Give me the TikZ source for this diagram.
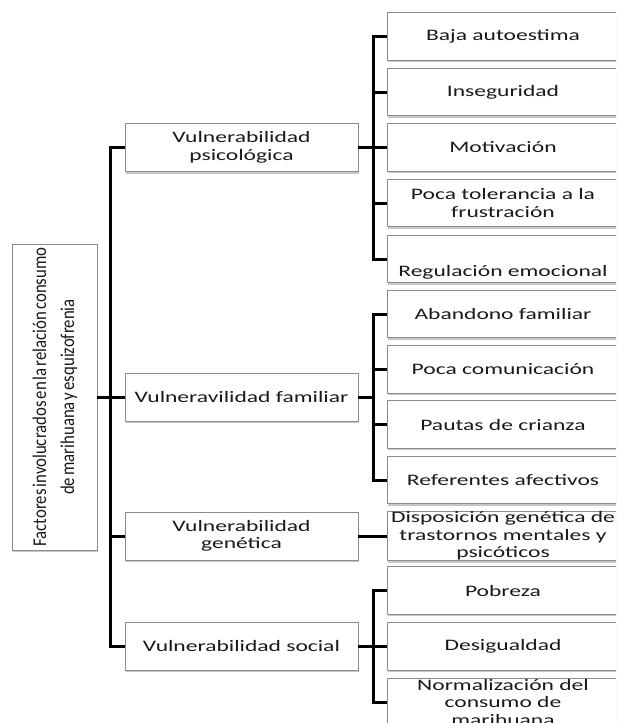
\documentclass[tikz,border=0pt]{standalone}
\usepackage{fontspec}
\setmainfont{Carlito}[FakeStretch=1.47]
\newfontfamily\rootfont{Carlito}[FakeStretch=0.86]
\usetikzlibrary{shadows}
\definecolor{boxline}{HTML}{8C8C8C}
\definecolor{txt}{HTML}{1A1A1A}
\begin{document}
\begin{tikzpicture}[x=1pt,y=-1pt,
  box/.style={draw=boxline, line width=0.8pt, fill=white,
    drop shadow={shadow xshift=1pt, shadow yshift=-2.2pt, opacity=0.4, fill=black!55},
    inner sep=0pt, align=center, text=txt,
    font=\fontsize{16}{17.5}\selectfont},
  mid/.style={box, minimum width=233pt, minimum height=48pt},
  leaf/.style={box, minimum width=232pt, minimum height=47.5pt},
  link/.style={line width=3pt, draw=black}]
\useasboundingbox (0,0) rectangle (616,723);
\clip (0,0) rectangle (616,723);

% root
\node[box, minimum width=85pt, minimum height=306pt] (root) at (54.5,397)
  {\rootfont\fontsize{19.5}{28}\selectfont\spaceskip=2pt\relax
   \rotatebox{90}{\begin{tabular}{@{}c@{}}Factores involucrados en la relación consumo\\de marihuana y esquizofrenia\end{tabular}}};

% level 1
\node[mid] (psi) at (241.5,147.5) {Vulnerabilidad\\psicológica};
\node[mid] (fam) at (241.5,397) {Vulneravilidad familiar};
\node[mid] (gen) at (241.5,536) {Vulnerabilidad\\genética};
\node[mid] (soc) at (241.5,646) {Vulnerabilidad social};

% leaves: psicologica
\node[leaf] (a1) at (503,36.5) {Baja autoestima};
\node[leaf] (a2) at (503,92) {Inseguridad};
\node[leaf] (a3) at (503,147.5) {Motivación};
\node[leaf] (a4) at (503,203) {Poca tolerancia a la\\frustración};
\node[leaf] (a5) at (503,259) {\raisebox{-13pt}[\height][\depth]{Regulación emocional}};

% leaves: familiar
\node[leaf] (b1) at (503,314) {Abandono familiar};
\node[leaf] (b2) at (503,369.5) {Poca comunicación};
\node[leaf] (b3) at (503,424.5) {Pautas de crianza};
\node[leaf] (b4) at (503,480) {Referentes afectivos};

% leaf: genetica
\node[leaf] (c1) at (503,536) {Disposición genética de\\trastornos mentales y\\psicóticos};

% leaves: social
\node[leaf] (d1) at (503,590.5) {Pobreza};
\node[leaf] (d2) at (503,646.5) {Desigualdad};
\node[leaf] (d3) at (503,702) {Normalización del\\consumo de\\marihuana};

% trunks
\coordinate (T) at (110,0);
\coordinate (U) at (373,0);

\draw[link] (psi.west) -- (psi.west -| T) |- (soc.west);
\draw[link] (root.east) -- (root.east -| T);
\draw[link] (fam.west) -- (fam.west -| T);
\draw[link] (gen.west) -- (gen.west -| T);

\draw[link] (a1.west) -- (a1.west -| U) |- (a5.west);
\draw[link] (psi.east) -- (psi.east -| U);
\draw[link] (a2.west) -- (a2.west -| U);
\draw[link] (a3.west) -- (a3.west -| U);
\draw[link] (a4.west) -- (a4.west -| U);

\draw[link] (b1.west) -- (b1.west -| U) |- (b4.west);
\draw[link] (fam.east) -- (fam.east -| U);
\draw[link] (b2.west) -- (b2.west -| U);
\draw[link] (b3.west) -- (b3.west -| U);

\draw[link] (gen.east) -- (c1.west);

\draw[link] (d1.west) -- (d1.west -| U) |- (d3.west);
\draw[link] (soc.east) -- (soc.east -| U);
\draw[link] (d2.west) -- (d2.west -| U);
\end{tikzpicture}
\end{document}
